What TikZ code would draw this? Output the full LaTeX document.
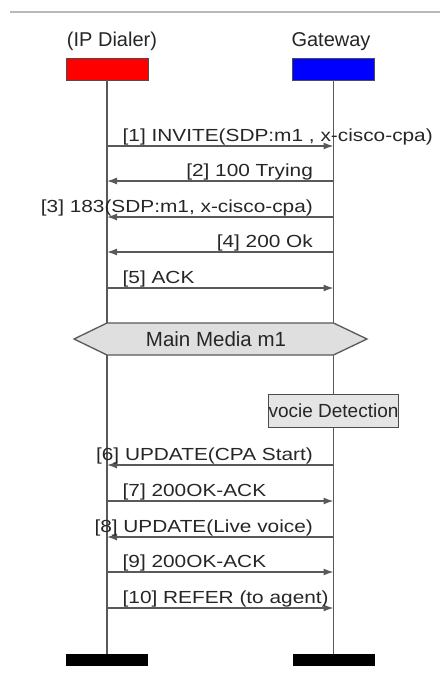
\documentclass[tikz,border=0pt]{standalone}
\usepackage{fontspec}
\setmainfont{Liberation Sans}
\newfontfamily\msgfont[FakeStretch=1.19]{Liberation Sans}
\usetikzlibrary{arrows.meta}

\begin{document}
\begin{tikzpicture}[x=1pt,y=-1pt,
    line/.style={draw=black!65,line width=1.3pt},
    msg/.style={line,-{Latex[length=10pt,width=7pt]}},
    txt/.style={font=\msgfont\fontsize{17.5}{17.5}\selectfont,text=black!85,inner sep=0pt},
    head/.style={draw=black!70,minimum width=82pt,minimum height=22pt,inner sep=0pt},
    bar/.style={fill=black,minimum width=82pt,minimum height=12pt,inner sep=0pt}]

  \useasboundingbox (0,0) rectangle (440,675);

  % Top rule
  \draw[gray!55,line width=1.5pt] (10,12) -- (440,12);

  % Participants
  \node[font=\fontsize{20}{20}\selectfont,anchor=base,text=black!85] (dialername) at (112,46) {(IP Dialer)};
  \node[font=\fontsize{20}{20}\selectfont,anchor=base,text=black!85] (gatewayname) at (331,46) {Gateway};
  \node[head,fill=red] (dialer) at (107,69) {};
  \node[head,fill=blue] (gateway) at (333.5,69) {};
  \node[bar] (dialerend) at (107,660) {};
  \node[bar] (gatewayend) at (333.5,660) {};

  % Lifelines
  \draw[line] (dialer) -- (dialerend);
  \draw[line] (gateway) -- (gatewayend);

  % Message rows
  \foreach \n/\y in {1/146,2/181,3/217,4/252,5/288,6/465,7/501,8/537,9/572,10/608} {
    \coordinate (d\n) at (107,\y);
    \coordinate (g\n) at (333.5,\y);
  }

  % Call setup
  \draw[msg] (d1) -- (g1) node[txt,pos=0,anchor=base west,xshift=15pt,yshift=5pt] {[1] INVITE(SDP:m1 , x-cisco-cpa)};
  \draw[msg] (g2) -- (d2) node[txt,pos=0,anchor=base east,xshift=-20pt,yshift=5pt] {[2] 100 Trying};
  \draw[msg] (g3) -- (d3) node[txt,pos=0,anchor=base east,xshift=-20pt,yshift=5pt] {[3] 183(SDP:m1, x-cisco-cpa)};
  \draw[msg] (g4) -- (d4) node[txt,pos=0,anchor=base east,xshift=-20pt,yshift=5pt] {[4] 200 Ok};
  \draw[msg] (d5) -- (g5) node[txt,pos=0,anchor=base west,xshift=15pt,yshift=5pt] {[5] ACK};

  % Media
  \draw[line,fill=gray!25] (74,339) -- (107,323) -- (333.5,323) -- (367,339) -- (333.5,355) -- (107,355) -- cycle;
  \node[font=\fontsize{20.5}{20.5}\selectfont,text=black!85] (media) at (216,339) {Main Media m1};

  % Detection
  \node[draw=black!70,fill=gray!20,minimum width=129pt,minimum height=33pt,inner sep=0pt,
        font=\fontsize{19}{19}\selectfont,text=black!85] (detect) at (333.5,410.5) {vocie Detection};

  % CPA
  \draw[msg] (g6) -- (d6) node[txt,pos=0,anchor=base east,xshift=-20pt,yshift=5pt] {[6] UPDATE(CPA Start)};
  \draw[msg] (d7) -- (g7) node[txt,pos=0,anchor=base west,xshift=15pt,yshift=5pt] {[7] 200OK-ACK};
  \draw[msg] (g8) -- (d8) node[txt,pos=0,anchor=base east,xshift=-20pt,yshift=5pt] {[8] UPDATE(Live voice)};
  \draw[msg] (d9) -- (g9) node[txt,pos=0,anchor=base west,xshift=15pt,yshift=5pt] {[9] 200OK-ACK};
  \draw[msg] (d10) -- (g10) node[txt,pos=0,anchor=base west,xshift=15pt,yshift=5pt] {[10] REFER (to agent)};

\end{tikzpicture}
\end{document}
